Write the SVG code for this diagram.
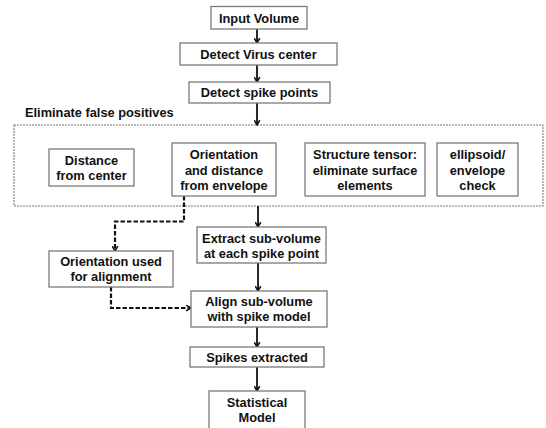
<svg xmlns="http://www.w3.org/2000/svg" width="546" height="428" viewBox="0 0 546 428">
<defs>
<style>
.box{fill:#fff;stroke:#7a7a7a;stroke-width:1.3}
.t{font-family:"Liberation Sans",Arial,sans-serif;font-weight:bold;font-size:12.8px;fill:#111;text-anchor:middle}
.a{fill:none;stroke:#111;stroke-width:1.8;marker-end:url(#ah)}
.d{fill:none;stroke:#111;stroke-width:2.2;stroke-dasharray:4.5 2;marker-end:url(#ah)}
</style>
<marker id="ah" viewBox="0 0 10 10" refX="9" refY="5" markerWidth="7" markerHeight="7" orient="auto" markerUnits="userSpaceOnUse">
<polyline points="2,1 9,5 2,9" fill="none" stroke="#111" stroke-width="2.2"/>
</marker>
</defs>
<rect width="546" height="428" fill="#fff"/>
<g id="group-eliminate">
<rect x="14" y="125" width="529" height="81" fill="none" stroke="#777" stroke-width="1.1" stroke-dasharray="2 1"/>
<text class="t" x="25" y="117" style="text-anchor:start">Eliminate false positives</text>
</g>
<g id="connectors">
<path class="a" d="M257,29 V43"/>
<path class="a" d="M257,65 V82"/>
<path class="a" d="M257,103 V125"/>
<path class="a" d="M258,206 V227"/>
<path class="a" d="M258,263 V291"/>
<path class="a" d="M257,327 V347"/>
<path class="a" d="M257,367 V391"/>
<path class="d" d="M184,196 V221.5 H115 V251"/>
<path class="d" d="M111,287 V308 H191"/>
</g>
<g id="input"><rect class="box" x="211" y="6.5" width="96" height="22.5"/><text class="t" x="259" y="22.5">Input Volume</text></g>
<g id="virus"><rect class="box" x="180" y="43" width="157" height="22"/><text class="t" x="258.5" y="58.5">Detect Virus center</text></g>
<g id="spikes"><rect class="box" x="189" y="82" width="141" height="21"/><text class="t" x="259.5" y="97">Detect spike points</text></g>
<g id="distance"><rect class="box" x="49" y="149" width="85" height="37"/><text class="t" x="91.5" y="165">Distance</text><text class="t" x="91.5" y="180">from center</text></g>
<g id="orientation"><rect class="box" x="172" y="143" width="104" height="53"/><text class="t" x="224" y="159">Orientation</text><text class="t" x="224" y="174.5">and distance</text><text class="t" x="224" y="190">from envelope</text></g>
<g id="structure"><rect class="box" x="305" y="143" width="120" height="53"/><text class="t" x="365" y="159">Structure tensor:</text><text class="t" x="365" y="174.5">eliminate surface</text><text class="t" x="365" y="190">elements</text></g>
<g id="ellipsoid"><rect class="box" x="437" y="143" width="81" height="53"/><text class="t" x="477.5" y="159">ellipsoid/</text><text class="t" x="477.5" y="174.5">envelope</text><text class="t" x="477.5" y="190">check</text></g>
<g id="extract"><rect class="box" x="197" y="227" width="129" height="36"/><text class="t" x="261.5" y="243">Extract sub-volume</text><text class="t" x="261.5" y="258">at each spike point</text></g>
<g id="orientation-used"><rect class="box" x="49" y="251" width="124" height="36"/><text class="t" x="111" y="266">Orientation used</text><text class="t" x="111" y="281">for alignment</text></g>
<g id="align"><rect class="box" x="191" y="291" width="136" height="36"/><text class="t" x="259" y="306">Align sub-volume</text><text class="t" x="259" y="321">with spike model</text></g>
<g id="extracted"><rect class="box" x="190" y="347" width="134" height="20"/><text class="t" x="257" y="361.5">Spikes extracted</text></g>
<g id="statistical"><rect class="box" x="209" y="391" width="96" height="45"/><text class="t" x="257" y="407">Statistical</text><text class="t" x="257" y="422">Model</text></g>
</svg>
